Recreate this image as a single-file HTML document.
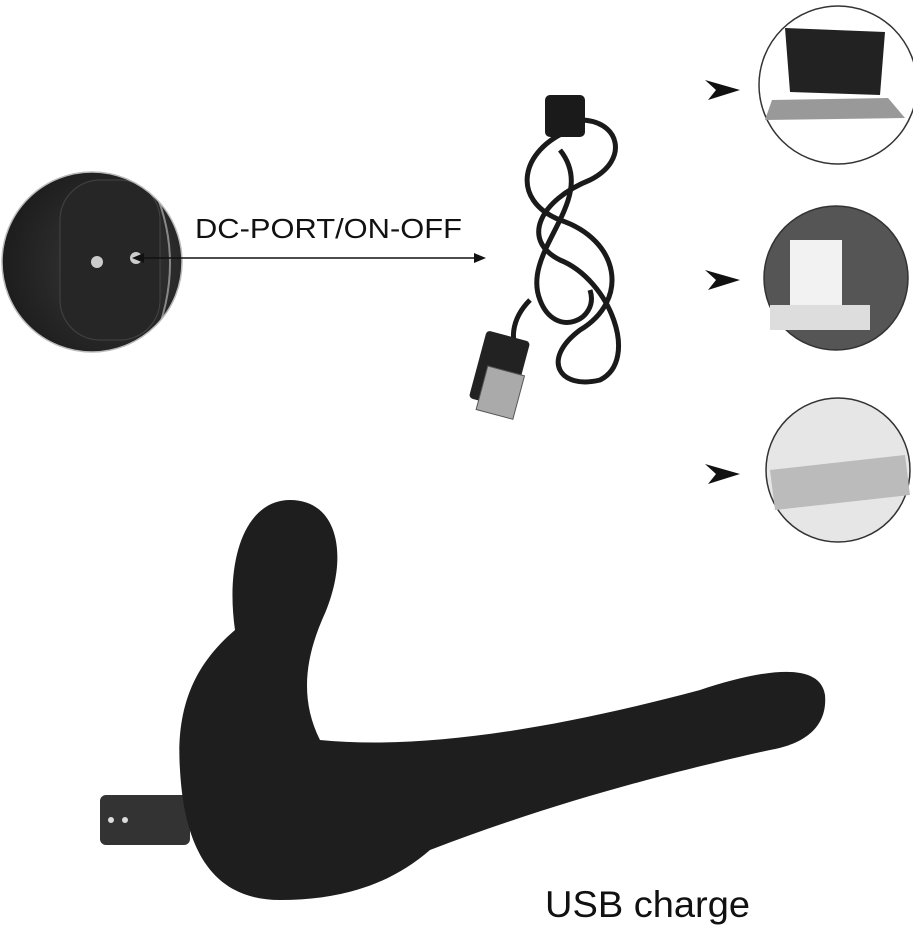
<!DOCTYPE html>
<html><head><meta charset="utf-8"><style>
html,body{margin:0;padding:0;background:#fff;}
body{width:913px;height:930px;position:relative;overflow:hidden;font-family:"Liberation Sans",sans-serif;}
</style></head><body>
<svg width="913" height="930" viewBox="0 0 913 930" xmlns="http://www.w3.org/2000/svg" style="position:absolute;left:0;top:0">
<defs>
<clipPath id="c1"><circle cx="92" cy="262" r="90"/></clipPath>
<radialGradient id="g1" cx="0.6" cy="0.5" r="0.6"><stop offset="0" stop-color="#3a3a3a"/><stop offset="1" stop-color="#1c1c1c"/></radialGradient>
</defs>
<circle cx="92" cy="262" r="90" fill="#2a2a2a"/>
<g clip-path="url(#c1)">
<rect x="0" y="170" width="190" height="190" fill="url(#g1)"/>
<rect x="60" y="180" width="100" height="160" rx="40" fill="#262626" stroke="#444"/>
<path d="M150 180 Q190 262 150 350" stroke="#888" stroke-width="2" fill="none"/>
</g>
<circle cx="92" cy="262" r="90" fill="none" stroke="#bbb" stroke-width="1.5"/>
<circle cx="97" cy="262" r="6" fill="#ccc"/>
<circle cx="136" cy="258" r="6" fill="#ccc"/>
<text x="195" y="238" font-size="28" fill="#111" textLength="267" lengthAdjust="spacingAndGlyphs" font-family="Liberation Sans, sans-serif">DC-PORT/ON-OFF</text>
<line x1="135" y1="258" x2="480" y2="258" stroke="#111" stroke-width="1.5"/>
<path d="M132 258 L144 253 L144 263 Z" fill="#111"/>
<path d="M486 258 L474 253 L474 263 Z" fill="#111"/>
<g fill="none" stroke="#1a1a1a" stroke-width="5">
<path d="M570 130 C520 150 510 200 560 220 C620 240 630 300 580 330 C540 360 560 390 600 380 C640 360 610 280 560 260 C520 240 540 200 590 180 C630 160 620 120 580 120"/>
<path d="M560 150 C600 200 520 250 540 300 C555 340 600 320 590 290"/>
<path d="M530 300 C510 320 510 345 520 350"/>
</g>
<rect x="545" y="95" width="40" height="42" rx="5" fill="#1a1a1a"/>
<rect x="477" y="335" width="45" height="70" rx="4" fill="#222" transform="rotate(15 500 370)"/>
<rect x="482" y="370" width="38" height="45" fill="#aaa" stroke="#555" transform="rotate(15 500 390)"/>
<circle cx="838" cy="85" r="79" fill="#fff" stroke="#333" stroke-width="1.5"/>
<path d="M785 28 L885 32 L880 95 L790 92 Z" fill="#222"/>
<path d="M772 100 L888 98 L905 118 L765 120 Z" fill="#999"/>
<circle cx="836" cy="278" r="72" fill="#555" stroke="#333" stroke-width="1.5"/>
<rect x="790" y="240" width="52" height="70" fill="#f2f2f2"/>
<rect x="770" y="305" width="100" height="25" fill="#ddd"/>
<circle cx="838" cy="470" r="72" fill="#e6e6e6" stroke="#333" stroke-width="1.5"/>
<path d="M770 470 L905 455 L910 495 L775 510 Z" fill="#bbb"/>
<path d="M705 80 L740 90 L708 100 L716 90 Z" fill="#111"/>
<path d="M705 270 L740 280 L708 290 L716 280 Z" fill="#111"/>
<path d="M705 464 L740 474 L708 484 L716 474 Z" fill="#111"/>
<g fill="#1e1e1e">
<rect x="100" y="795" width="90" height="50" rx="6" fill="#333"/>
<path d="M180 770 C175 700 200 660 235 630 C225 560 245 500 290 500 C340 500 350 560 322 620 C305 660 300 700 320 740 C420 750 550 730 700 690 C760 670 820 660 825 695 C828 730 800 745 770 750 C680 770 560 800 430 850 C390 885 340 900 280 900 C220 900 185 860 180 770 Z"/>
</g>
<circle cx="111" cy="820" r="3" fill="#ddd"/>
<circle cx="125" cy="820" r="3" fill="#ddd"/>
<text x="545" y="917" font-size="37" fill="#111" textLength="205" lengthAdjust="spacingAndGlyphs" font-family="Liberation Sans, sans-serif">USB charge</text>
</svg>
</body></html>
